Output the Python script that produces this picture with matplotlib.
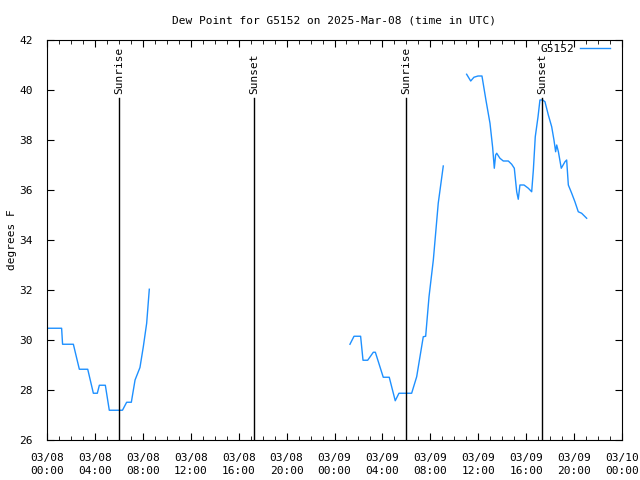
import matplotlib
matplotlib.use("Agg")
import matplotlib.pyplot as plt
import numpy as np

plt.rcParams['font.family'] = ['DejaVu Sans Mono']

# hours since 2025-03-08 00:00 UTC, dew point in F
seg1_h = [0.0, 1.22, 1.3, 2.2, 2.7, 3.4, 3.87, 4.2, 4.37, 4.87, 5.2, 6.3, 6.65, 7.04, 7.35, 7.76, 8.04, 8.32, 8.54]
seg1_v = [30.47, 30.47, 29.83, 29.83, 28.83, 28.83, 27.87, 27.87, 28.19, 28.19, 27.19, 27.19, 27.51, 27.51, 28.4, 28.9, 29.73, 30.67, 32.03]
seg2_h = [25.29, 25.63, 26.18, 26.38, 26.77, 27.24, 27.41, 28.07, 28.57, 29.07, 29.38, 30.44, 30.86, 31.41, 31.61, 31.89, 32.25, 32.66, 33.08]
seg2_v = [29.83, 30.15, 30.15, 29.19, 29.19, 29.51, 29.51, 28.51, 28.51, 27.57, 27.87, 27.87, 28.53, 30.13, 30.15, 31.73, 33.2, 35.47, 36.96]
seg3_h = [35.03, 35.37, 35.64, 35.98, 36.31, 36.64, 36.98, 37.2, 37.34, 37.45, 37.54, 37.81, 38.09, 38.51, 38.79, 39.01, 39.21, 39.34, 39.48, 39.82, 40.18, 40.46, 40.6, 40.76, 40.99, 41.15, 41.38, 41.57, 41.85, 42.13, 42.32, 42.46, 42.55, 42.69, 42.93, 43.24, 43.38, 43.52, 43.8, 44.07, 44.35, 44.63, 45.05]
seg3_v = [40.63, 40.36, 40.51, 40.56, 40.56, 39.6, 38.67, 37.71, 36.87, 37.4, 37.47, 37.27, 37.16, 37.16, 37.03, 36.87, 35.93, 35.63, 36.2, 36.2, 36.07, 35.93, 36.8, 38.13, 38.93, 39.6, 39.6, 39.53, 39.0, 38.53, 38.0, 37.53, 37.8, 37.53, 36.87, 37.13, 37.2, 36.2, 35.87, 35.53, 35.13, 35.07, 34.87]

events_h = [6.0, 17.28, 29.97, 41.32]
events_lbl = ["Sunrise", "Sunset", "Sunrise", "Sunset"]
event_top = 39.68

tick_h = list(range(0, 49, 4))
tick_lbl = ["03/08\n00:00", "03/08\n04:00", "03/08\n08:00", "03/08\n12:00", "03/08\n16:00", "03/08\n20:00",
            "03/09\n00:00", "03/09\n04:00", "03/09\n08:00", "03/09\n12:00", "03/09\n16:00", "03/09\n20:00",
            "03/10\n00:00"]

fig = plt.figure(figsize=(6.4, 4.8), dpi=100)
ax = fig.add_axes([47/640, 1-440/480, (622-47)/640, 400/480])

h = seg1_h + [np.nan] + seg2_h + [np.nan] + seg3_h
v = seg1_v + [np.nan] + seg2_v + [np.nan] + seg3_v
ax.plot(h, v, color='#1e90ff', lw=1.0, label='G5152')

for eh, el in zip(events_h, events_lbl):
    ax.plot([eh, eh], [26, event_top], color='black', lw=1.0)
    ax.text(eh, event_top + 0.15, el, rotation=90, ha='center', va='bottom', fontsize=8)

ax.set_xlim(0, 48)
ax.set_ylim(26, 42)
ax.set_xticks(tick_h)
ax.set_xticklabels(tick_lbl, fontsize=8, linespacing=1.5)
ax.set_xticks(range(0, 49), minor=True)
ax.set_yticks(range(26, 43, 2))
ax.tick_params(axis='y', labelsize=8, pad=10)
ax.tick_params(axis='x', pad=9)
ax.tick_params(which='both', direction='in', top=True, right=True)
ax.tick_params(which='major', length=5)
ax.tick_params(which='minor', length=3)
ax.set_ylabel('degrees F', fontsize=8)
ax.yaxis.set_label_coords(-0.052, 0.5)
ax.set_title('Dew Point for G5152 on 2025-Mar-08 (time in UTC)', fontsize=8, pad=12)
ax.legend(loc='upper right', frameon=False, fontsize=8, handlelength=2.7,
          markerfirst=False, bbox_to_anchor=(610/640, 1-44/480),
          bbox_transform=fig.transFigure, borderaxespad=0, borderpad=0,
          handletextpad=0.55)

fig.savefig('out.png', dpi=100)
